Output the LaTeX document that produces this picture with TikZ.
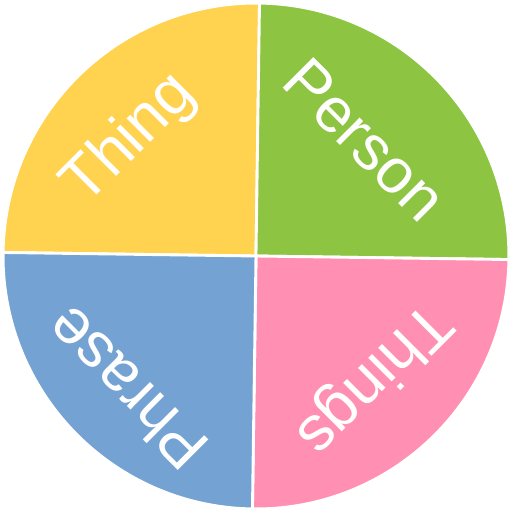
\documentclass[tikz,border=0pt]{standalone}
\usepackage{fontspec}
\setmainfont{Liberation Sans}
\usepackage{tikz}
\usetikzlibrary{positioning}
\definecolor{qyellow}{RGB}{255,210,80}
\definecolor{qgreen}{RGB}{141,196,65}
\definecolor{qpink}{RGB}{255,144,180}
\definecolor{qblue}{RGB}{116,163,211}
\tikzset{
  quarter/.style={draw=white,line width=1.6pt},
  qlabel/.style={text=white,font=\fontsize{35}{35}\selectfont,inner sep=0pt}
}

\begin{document}
\begin{tikzpicture}
\useasboundingbox (0,0) rectangle (10,10);
\coordinate (c) at (5,5);
\begin{scope}[rotate around={-0.8:(c)}]
\fill[qyellow,quarter] (c) -- ++(180:4.94) arc (180:90:4.94) -- cycle;
\fill[qgreen,quarter] (c) -- ++(90:4.94) arc (90:0:4.94) -- cycle;
\fill[qpink,quarter] (c) -- ++(0:4.94) arc (0:-90:4.94) -- cycle;
\fill[qblue,quarter] (c) -- ++(-90:4.94) arc (-90:-180:4.94) -- cycle;
\end{scope}
\node[qlabel,rotate=45] (thing) at (2.54,7.27) {Thing};
\node[qlabel,rotate=-45] (person) at (7.13,7.27) {Person};
\node[qlabel,rotate=-135] (things) at (7.27,2.62) {Things};
\node[qlabel,rotate=135] (phrase) at (2.46,2.40) {Phrase};
\end{tikzpicture}
\end{document}
